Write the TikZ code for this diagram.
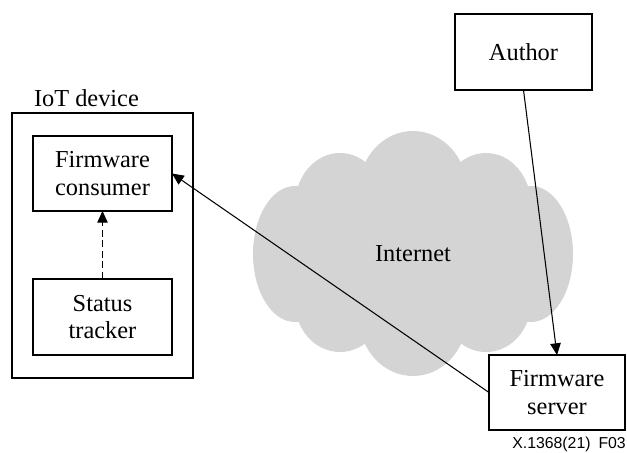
\documentclass[tikz,border=0pt]{standalone}
\usepackage{fontspec}
\setmainfont{Liberation Serif}
\newfontfamily\labelfont{Liberation Sans}
\usetikzlibrary{arrows.meta}
\definecolor{cloudgray}{RGB}{212,212,212}
\begin{document}
\begin{tikzpicture}[x=0.03cm,y=-0.03cm,
  txt/.style={inner sep=0pt,outer sep=0pt,align=center,font=\fontsize{20.8}{23.5}\selectfont},
  box/.style={txt,draw,line width=0.9pt},
  arr/.style={line width=0.9pt,-{Triangle[length=10pt,width=9pt]}},
  dasharr/.style={arr,dash pattern=on 6pt off 3pt},
  cloudpart/.style={fill=cloudgray}
  ]
\useasboundingbox (0,0) rectangle (627,452);
% cloud
\fill[cloudpart] (413,254) ellipse [x radius=135, y radius=95];
\fill[cloudpart] (413,190) ellipse [x radius=54, y radius=59];
\fill[cloudpart] (413,317) ellipse [x radius=54, y radius=59];
\fill[cloudpart] (340,205) ellipse [x radius=45, y radius=52];
\fill[cloudpart] (486,205) ellipse [x radius=45, y radius=52];
\fill[cloudpart] (340,302) ellipse [x radius=45, y radius=50];
\fill[cloudpart] (486,302) ellipse [x radius=45, y radius=50];
\fill[cloudpart] (295,254) ellipse [x radius=42, y radius=68];
\fill[cloudpart] (531,254) ellipse [x radius=42, y radius=68];
\node[txt] (internet) at (413,254) {Internet};
% IoT device
\node[box,minimum width=5.43cm,minimum height=7.95cm] (iot) at (102.5,245.5) {};
\node[txt,anchor=west] (iotlabel) at (34,98) {IoT device};
\node[box,minimum width=4.17cm,minimum height=2.25cm] (consumer) at (102.5,173.5) {Firmware\\consumer};
\node[box,minimum width=4.17cm,minimum height=2.28cm] (tracker) at (102.5,317) {Status\\tracker};
% right side
\node[box,minimum width=4.11cm,minimum height=2.28cm] (author) at (523.5,52) {Author};
\node[box,minimum width=4.08cm,minimum height=2.25cm] (server) at (557,392.5) {Firmware\\server};
% connectors
\draw[arr] (author.south) -- (server.north);
\draw[arr] (server.west) -- (consumer.east);
\draw[dasharr] (tracker.north) -- (consumer.south);
% figure code
\node[inner sep=0pt,anchor=east,font=\labelfont\fontsize{13.5}{14}\selectfont] (code) at (626,444) {X.1368(21)\hspace{0.5em}F03};
\end{tikzpicture}
\end{document}
